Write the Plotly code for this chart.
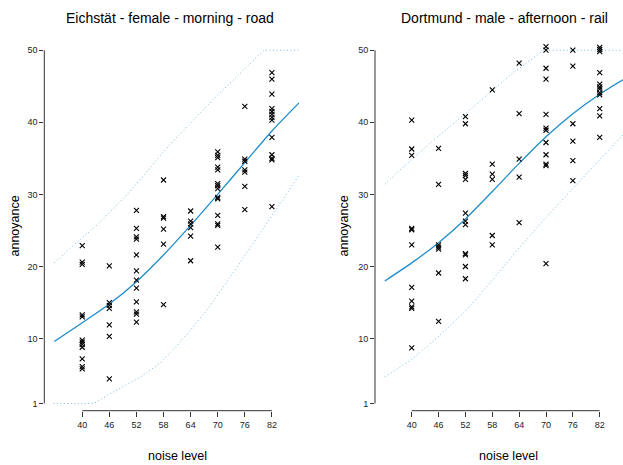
import plotly.graph_objects as go

W, H = 623, 465

# ---------------- data ----------------
noise_levels = [40, 46, 52, 58, 64, 70, 76, 82]
y_ticks = [1, 10, 20, 30, 40, 50]

left_title = "Eichstät - female - morning - road"
right_title = "Dortmund - male - afternoon - rail"

left_annoyance = [
    [22.9, 20.6, 20.3, 13.3, 13.0, 9.8, 9.5, 9.2, 8.8, 7.2, 6.1, 5.8],
    [20.1, 15.0, 14.6, 14.2, 11.9, 10.3, 4.4],
    [27.8, 25.3, 24.1, 23.8, 21.6, 19.4, 18.1, 17.0, 15.1, 13.7, 13.4, 12.3],
    [32.0, 26.9, 26.7, 25.2, 23.1, 14.7],
    [27.7, 26.3, 25.9, 25.4, 24.2, 20.8],
    [35.9, 35.4, 35.1, 33.8, 33.4, 31.5, 31.2, 30.8, 29.6, 29.4, 27.1, 25.9, 25.7, 22.7],
    [42.2, 34.9, 34.6, 33.4, 33.1, 31.1, 27.9],
    [46.9, 46.0, 43.9, 41.9, 41.5, 41.1, 40.7, 40.3, 37.9, 35.5, 35.0, 34.8, 28.3],
]
right_annoyance = [
    [40.3, 36.3, 35.4, 25.3, 25.1, 23.0, 17.1, 15.2, 14.4, 14.2, 8.7],
    [36.4, 31.4, 23.0, 22.7, 22.4, 19.1, 12.4],
    [40.8, 39.8, 32.9, 32.6, 32.1, 27.4, 26.3, 25.8, 21.8, 21.6, 20.0, 18.3],
    [44.5, 34.2, 32.8, 32.1, 24.3, 23.0],
    [48.2, 41.2, 34.9, 32.4, 26.1],
    [50.5, 50.0, 47.5, 46.0, 41.1, 39.2, 38.9, 37.2, 35.5, 34.2, 34.0, 20.4],
    [50.0, 47.8, 39.8, 37.4, 34.7, 31.9],
    [50.4, 50.1, 49.8, 46.9, 45.3, 44.9, 44.6, 44.1, 43.8, 41.9, 40.9, 37.9],
]

left_fit_x = [33.8, 40, 46, 52, 58, 64, 70, 76, 82, 88]
left_fit = [9.6, 12.2, 14.8, 17.9, 21.6, 25.7, 30.0, 34.4, 38.8, 42.7]
left_upper_x = [33.8, 38, 43, 50, 59.5, 70, 80.3, 88]
left_upper = [20.5, 22.9, 25.6, 30.0, 37.0, 43.8, 50, 50]
left_lower_x = [33.6, 42.6, 45.6, 49, 53, 57, 60.5, 64, 68, 72.5, 77, 81.4, 85, 88]
left_lower = [1, 1, 2.15, 3.3, 4.7, 6.5, 8.7, 11.2, 14.3, 18.3, 22.4, 26.4, 29.8, 32.7]

right_fit_x = [34, 40, 46, 52, 58, 64, 70, 76, 82, 88]
right_fit = [18.0, 20.5, 23.3, 26.6, 30.4, 34.3, 38.0, 41.2, 43.9, 46.2]
right_upper_x = [34, 37.4, 45, 52, 61.9, 66, 69.5, 88]
right_upper = [31.4, 33.4, 37.6, 41.2, 46.5, 48.4, 50, 50]
right_lower_x = [34, 40, 46, 52, 58, 64, 70, 76, 82, 88]
right_lower = [4.7, 7.1, 10.3, 13.8, 18.1, 22.6, 26.8, 30.8, 34.9, 38.8]

# ---------------- style ----------------
FONT = "Liberation Sans, Arial, Helvetica, sans-serif"
LINE_BLUE = "#1f8ccc"
BAND_BLUE = "#74b9e4"
AXIS_COL = "#333333"


def px_x(p):
    return p / W


def px_y(p):
    return 1 - p / H


fig = go.Figure()


def add_panel(xs, ys, fx, fy, ux, uy, lx, ly, xa, ya):
    px, py = [], []
    for lvl, vals in zip(xs, ys):
        for v in vals:
            px.append(lvl)
            py.append(v)
    for bx, by in ((ux, uy), (lx, ly)):
        fig.add_trace(go.Scatter(x=bx, y=by, mode="lines", xaxis=xa, yaxis=ya,
                                 line=dict(color=BAND_BLUE, width=1, dash="1px,2.5px"),
                                 hoverinfo="skip"))
    fig.add_trace(go.Scatter(x=fx, y=fy, mode="lines", xaxis=xa, yaxis=ya,
                             line=dict(color=LINE_BLUE, width=1.3, shape="spline", smoothing=0.8)))
    fig.add_trace(go.Scatter(x=px, y=py, mode="markers", xaxis=xa, yaxis=ya,
                             marker=dict(symbol="x-thin", size=5, color="black",
                                         line=dict(color="black", width=1.1))))


add_panel(noise_levels, left_annoyance, left_fit_x, left_fit, left_upper_x, left_upper,
          left_lower_x, left_lower, "x", "y")
add_panel(noise_levels, right_annoyance, right_fit_x, right_fit, right_upper_x, right_upper,
          right_lower_x, right_lower, "x2", "y2")

y_dom = [px_y(410.7), px_y(35.8)]
y_rng = [0, 52]

common_x = dict(tickmode="array", tickvals=noise_levels, ticktext=[str(v) for v in noise_levels],
                ticks="outside", ticklen=5, tickwidth=1, tickcolor=AXIS_COL,
                showline=False, showgrid=False, zeroline=False,
                tickfont=dict(family=FONT, size=9, color="#222222"))
common_y = dict(tickmode="array", tickvals=y_ticks, ticktext=[str(v) for v in y_ticks],
                ticks="outside", ticklen=4, tickwidth=1, tickcolor=AXIS_COL,
                showline=False, showgrid=False, zeroline=False, range=y_rng, domain=y_dom,
                tickfont=dict(family=FONT, size=9, color="#222222"))

fig.update_layout(
    width=W, height=H,
    margin=dict(l=0, r=0, t=0, b=0),
    paper_bgcolor="white", plot_bgcolor="white",
    showlegend=False,
    hovermode=False,
    font=dict(family=FONT, color="black"),
    xaxis=dict(common_x, domain=[px_x(44.3), px_x(299)], range=[31.6, 88.0], anchor="y"),
    yaxis=dict(common_y, anchor="x"),
    xaxis2=dict(common_x, domain=[px_x(375), 1.0], range=[31.8, 87.2], anchor="y2"),
    yaxis2=dict(common_y, anchor="x2"),
)

# axis lines spanning only the tick range (base-R style)
for xa, ya in (("x", "y"), ("x2", "y2")):
    fig.add_shape(type="line", xref=f"{xa} domain", x0=0, x1=0, yref=ya,
                  y0=min(y_ticks), y1=max(y_ticks), line=dict(color=AXIS_COL, width=1))
    fig.add_shape(type="line", xref=xa, x0=min(noise_levels), x1=max(noise_levels),
                  yref=f"{ya} domain", y0=0, y1=0, line=dict(color=AXIS_COL, width=1))

ann = []
for title, cx in ((left_title, 169.7), (right_title, 504.4)):
    ann.append(dict(text=title, x=px_x(cx), y=px_y(18), xref="paper", yref="paper",
                    showarrow=False, xanchor="center", yanchor="middle",
                    font=dict(family=FONT, size=14, color="black")))
for cx in (177, 508):
    ann.append(dict(text="noise level", x=px_x(cx), y=px_y(456), xref="paper", yref="paper",
                    showarrow=False, xanchor="center", yanchor="middle",
                    font=dict(family=FONT, size=12.5, color="black")))
for cx in (15, 344):
    ann.append(dict(text="annoyance", x=px_x(cx), y=px_y(226.5), xref="paper", yref="paper",
                    showarrow=False, xanchor="center", yanchor="middle", textangle=-90,
                    font=dict(family=FONT, size=12.5, color="black")))
fig.update_layout(annotations=ann)

fig.write_html("out.html",
               config={"displayModeBar": False, "staticPlot": True},
               post_script="document.body.style.margin='0';document.body.style.padding='0';")
